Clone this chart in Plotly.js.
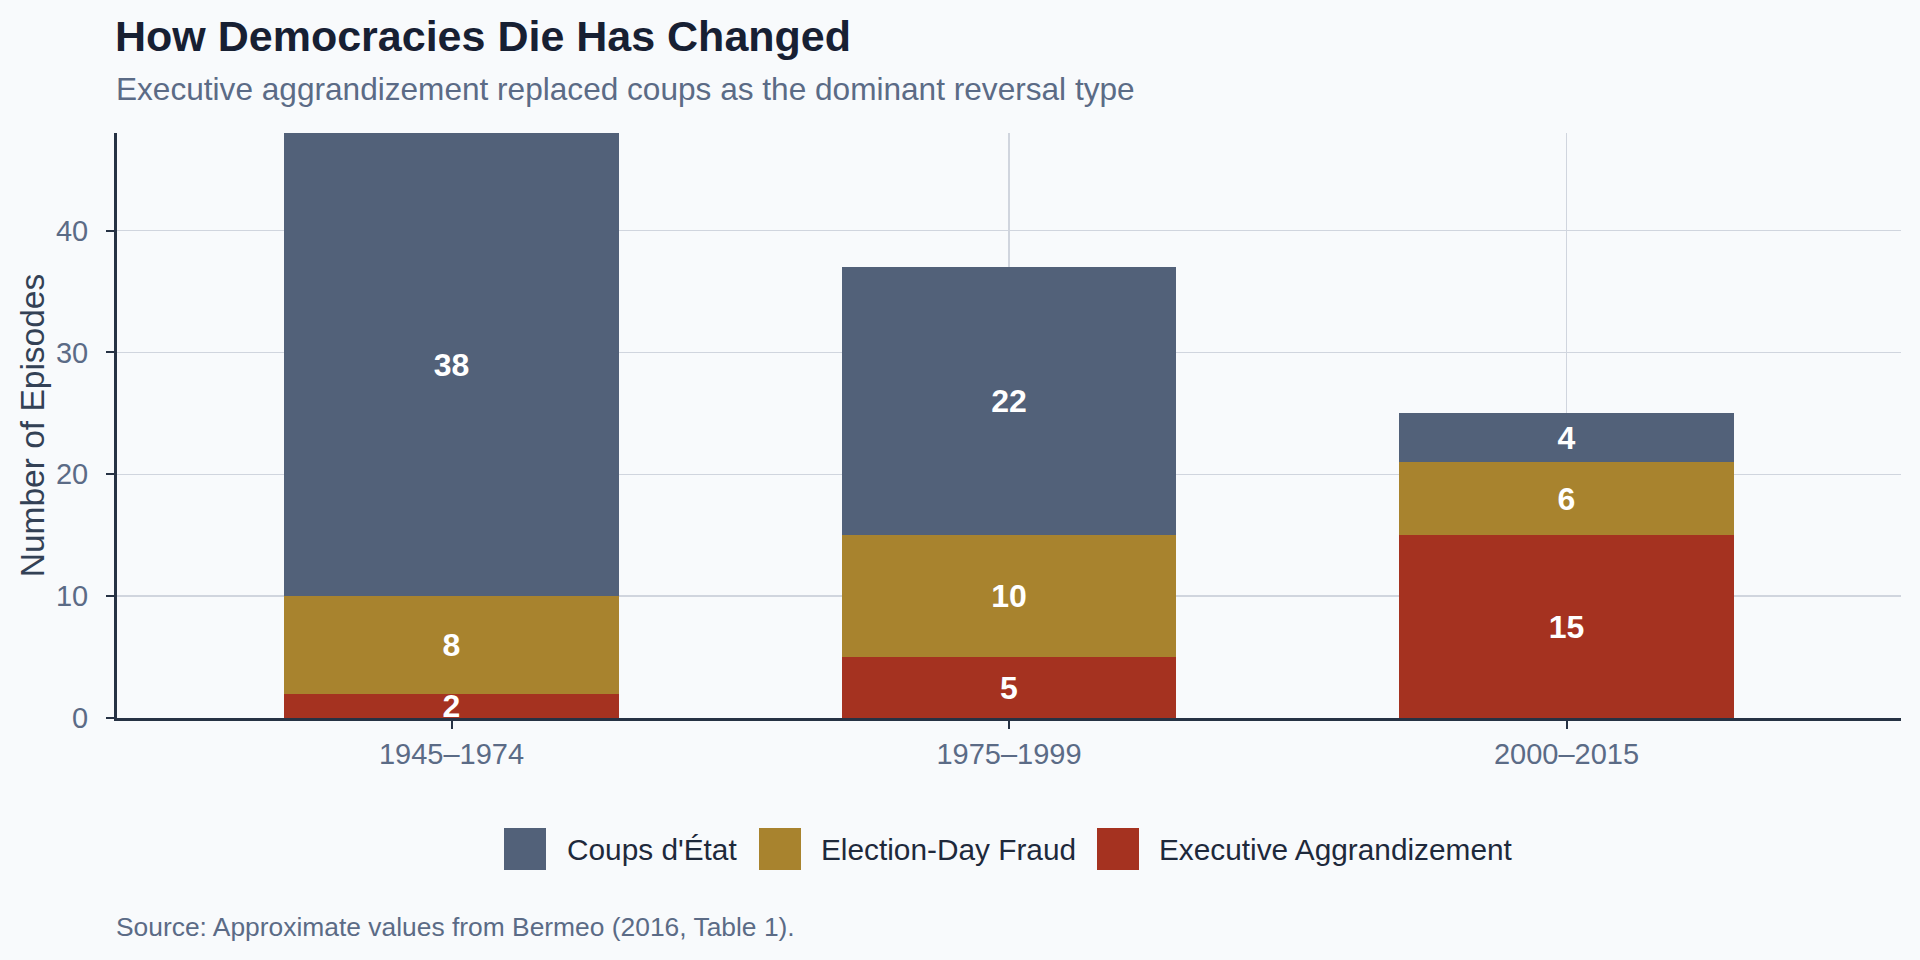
<!DOCTYPE html>
<html>
<head>
<meta charset="utf-8">
<script src="https://cdn.plot.ly/plotly-3.0.1.min.js"></script>
<style>
  html, body { margin: 0; padding: 0; background: #f8fafc; }
  #chart { width: 1920px; height: 960px; }
</style>
</head>
<body>
<div id="chart"></div>
<script>
// ---- Data ----
const periods = ["1945–1974", "1975–1999", "2000–2015"];
const executiveAggrandizement = [2, 5, 15];
const electionDayFraud = [8, 10, 6];
const coupsDEtat = [38, 22, 4];
const seriesNames = ["Coups d'État", "Election-Day Fraud", "Executive Aggrandizement"];
const seriesColors = ["#526179", "#a8832e", "#a53220"];
const yTicks = [0, 10, 20, 30, 40];

// ---- Layout geometry (px) ----
const W = 1920, H = 960;
const M = { l: 117, r: 19, t: 133, b: 242 };
const plotW = W - M.l - M.r, plotH = H - M.t - M.b;
const px2x = px => (px - M.l) / plotW;
const py2y = py => (H - M.b - py) / plotH;

const FONT = "Liberation Sans, Arial, Helvetica, sans-serif";

function barTrace(name, values, color) {
  return {
    type: "bar",
    name: name,
    x: periods,
    y: values,
    width: 0.6,
    marker: { color: color, line: { width: 0 } },
    text: values.map(String),
    texttemplate: "%{text}",
    textposition: "inside",
    insidetextanchor: "middle",
    textangle: 0,
    constraintext: "none",
    textfont: { family: FONT, size: 32, color: "#ffffff", weight: 700 },
    hoverinfo: "x+y+name",
    showlegend: false
  };
}

const data = [
  barTrace(seriesNames[2], executiveAggrandizement, seriesColors[2]),
  barTrace(seriesNames[1], electionDayFraud, seriesColors[1]),
  barTrace(seriesNames[0], coupsDEtat, seriesColors[0])
];

// ---- Manual legend (large swatches) ----
const legendSwatchX = [504, 759, 1097];
const legendTextX = [565, 819, 1157];
const swTop = 828, swBot = 870, legMid = 849;
const shapes = [];
const annotations = [];
seriesNames.forEach((n, i) => {
  shapes.push({
    type: "rect", xref: "paper", yref: "paper",
    x0: px2x(legendSwatchX[i]), x1: px2x(legendSwatchX[i] + 42),
    y0: py2y(swBot), y1: py2y(swTop),
    fillcolor: seriesColors[i], line: { width: 0 }, layer: "above"
  });
  annotations.push({
    xref: "paper", yref: "paper",
    x: px2x(legendTextX[i]), y: py2y(legMid),
    xanchor: "left", yanchor: "middle",
    text: n, showarrow: false,
    font: { family: FONT, size: 29.8, color: "#1e293b" }
  });
});

// subtitle
annotations.push({
  xref: "paper", yref: "paper",
  x: px2x(114), y: py2y(89),
  xanchor: "left", yanchor: "middle",
  text: "Executive aggrandizement replaced coups as the dominant reversal type",
  showarrow: false,
  font: { family: FONT, size: 31.6, color: "#5b6b86" }
});
// source
annotations.push({
  xref: "paper", yref: "paper",
  x: px2x(114), y: py2y(927),
  xanchor: "left", yanchor: "middle",
  text: "Source: Approximate values from Bermeo (2016, Table 1).",
  showarrow: false,
  font: { family: FONT, size: 26.4, color: "#5b6b86" }
});

const layout = {
  width: W, height: H,
  margin: M,
  paper_bgcolor: "#f8fafc",
  plot_bgcolor: "#f8fafc",
  barmode: "stack",
  showlegend: false,
  font: { family: FONT, color: "#5b6b86" },
  title: {
    text: "<b>How Democracies Die Has Changed</b>",
    xref: "container", yref: "container",
    x: 115 / W, xanchor: "left",
    y: 1 - 36 / H, yanchor: "middle",
    font: { family: FONT, size: 43, color: "#172033" }
  },
  xaxis: {
    type: "category",
    range: [-0.6, 2.6],
    showgrid: true,
    gridcolor: "#d0d5de",
    gridwidth: 1.5,
    showline: true,
    linecolor: "#263244",
    linewidth: 3,
    ticks: "outside",
    ticklen: 8,
    tickwidth: 2,
    tickcolor: "#263244",
    ticklabelstandoff: 0,
    tickfont: { family: FONT, size: 29, color: "#5b6b86" },
    zeroline: false,
    fixedrange: true
  },
  yaxis: {
    range: [0, 48],
    tickvals: yTicks,
    ticktext: yTicks.map(String),
    showgrid: true,
    gridcolor: "#d0d5de",
    gridwidth: 1.5,
    showline: true,
    linecolor: "#263244",
    linewidth: 3,
    ticks: "outside",
    ticklen: 8,
    tickwidth: 2,
    tickcolor: "#263244",
    ticklabelstandoff: 12,
    tickfont: { family: FONT, size: 29, color: "#5b6b86" },
    zeroline: false,
    title: {
      text: "Number of Episodes",
      standoff: 2,
      font: { family: FONT, size: 33.5, color: "#334155" }
    },
    fixedrange: true
  },
  shapes: shapes,
  annotations: annotations
};

Plotly.newPlot("chart", data, layout, { displayModeBar: false, staticPlot: true });
</script>
</body>
</html>
